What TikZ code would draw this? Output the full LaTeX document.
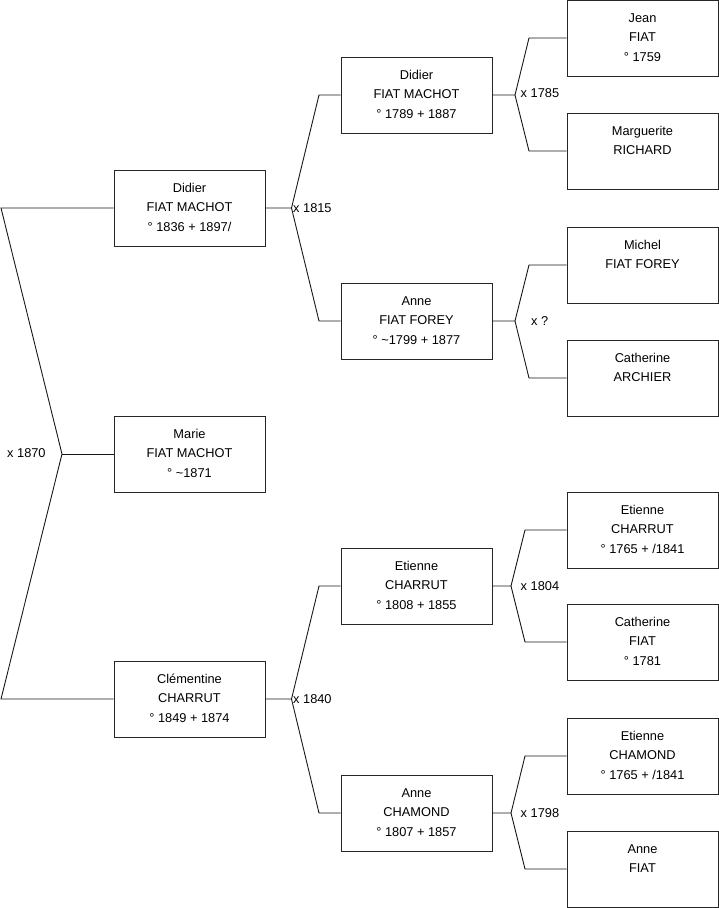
\documentclass[tikz,border=0pt]{standalone}
\usepackage{fontspec}
\setmainfont{Liberation Sans}
\newcommand\ppl[3]{\strut #1\\\strut #2\\\strut #3}
\begin{document}
\begin{tikzpicture}[x=1pt,y=-1pt,
  person/.style={draw=black!85, line width=0.9pt, minimum width=151pt, minimum height=76pt,
    inner sep=0pt, align=center, font=\fontsize{12.8}{19.5}\selectfont},
  lab/.style={anchor=west, inner sep=0pt, font=\fontsize{12.8}{14}\selectfont},
  link/.style={draw=black!90, line width=0.9pt}]
\useasboundingbox (0,0) rectangle (719,908);
% column 1
\node[person] (d1) at (189.5,208) {\ppl{Didier}{FIAT MACHOT}{° 1836 + 1897/}};
\node[person] (m1) at (189.5,454) {\ppl{Marie}{FIAT MACHOT}{° \textasciitilde1871}};
\node[person] (c1) at (189.5,699) {\ppl{Clémentine}{CHARRUT}{° 1849 + 1874}};
% column 2
\node[person] (d2) at (416.5,95) {\ppl{Didier}{FIAT MACHOT}{° 1789 + 1887}};
\node[person] (a2) at (416.5,321) {\ppl{Anne}{FIAT FOREY}{° \textasciitilde1799 + 1877}};
\node[person] (e2) at (416.5,586) {\ppl{Etienne}{CHARRUT}{° 1808 + 1855}};
\node[person] (n2) at (416.5,813) {\ppl{Anne}{CHAMOND}{° 1807 + 1857}};
% column 3
\node[person] (p1) at (642.5,38) {\ppl{Jean}{FIAT}{° 1759}};
\node[person] (p2) at (642.5,151) {\ppl{Marguerite}{RICHARD}{}};
\node[person] (p3) at (642.5,265) {\ppl{Michel}{FIAT FOREY}{}};
\node[person] (p4) at (642.5,378) {\ppl{Catherine}{ARCHIER}{}};
\node[person] (p5) at (642.5,530) {\ppl{Etienne}{CHARRUT}{° 1765 + /1841}};
\node[person] (p6) at (642.5,642) {\ppl{Catherine}{FIAT}{° 1781}};
\node[person] (p7) at (642.5,756) {\ppl{Etienne}{CHAMOND}{° 1765 + /1841}};
\node[person] (p8) at (642.5,869) {\ppl{Anne}{FIAT}{}};
% junction coordinates
\coordinate (rt) at (1,208);
\coordinate (rj) at (62,454);
\coordinate (rb) at (1,699);
\coordinate (j1) at (291.5,208);
\coordinate (k1a) at (319,95);
\coordinate (k1b) at (319,321);
\coordinate (j2) at (291.5,699);
\coordinate (k2a) at (319,586);
\coordinate (k2b) at (319,813);
\coordinate (j3) at (515,95);
\coordinate (k3a) at (529,38);
\coordinate (k3b) at (529,151);
\coordinate (j4) at (515,321);
\coordinate (k4a) at (529,265);
\coordinate (k4b) at (529,378);
\coordinate (j5) at (511,586);
\coordinate (k5a) at (525,530);
\coordinate (k5b) at (525,642);
\coordinate (j6) at (511,813);
\coordinate (k6a) at (525,756);
\coordinate (k6b) at (525,869);
% connectors
\draw[link] (d1.west) -- (rt) -- (rj) -- (rb) -- (c1.west);
\draw[link] (rj) -- (m1.west);
\draw[link] (d1.east) -- (j1) -- (k1a) -- (d2.west);
\draw[link] (j1) -- (k1b) -- (a2.west);
\draw[link] (c1.east) -- (j2) -- (k2a) -- (e2.west);
\draw[link] (j2) -- (k2b) -- (n2.west);
\draw[link] (d2.east) -- (j3) -- (k3a) -- (p1.west);
\draw[link] (j3) -- (k3b) -- (p2.west);
\draw[link] (a2.east) -- (j4) -- (k4a) -- (p3.west);
\draw[link] (j4) -- (k4b) -- (p4.west);
\draw[link] (e2.east) -- (j5) -- (k5a) -- (p5.west);
\draw[link] (j5) -- (k5b) -- (p6.west);
\draw[link] (n2.east) -- (j6) -- (k6a) -- (p7.west);
\draw[link] (j6) -- (k6b) -- (p8.west);
% labels
\node[lab] (l0) at (7,453) {x 1870};
\node[lab] (l1) at (293,208) {x 1815};
\node[lab] (l2) at (293,699) {x 1840};
\node[lab] (l3) at (520.5,93) {x 1785};
\node[lab] (l4) at (531,321) {x ?};
\node[lab] (l5) at (520.5,586) {x 1804};
\node[lab] (l6) at (520.5,813) {x 1798};
\end{tikzpicture}
\end{document}
